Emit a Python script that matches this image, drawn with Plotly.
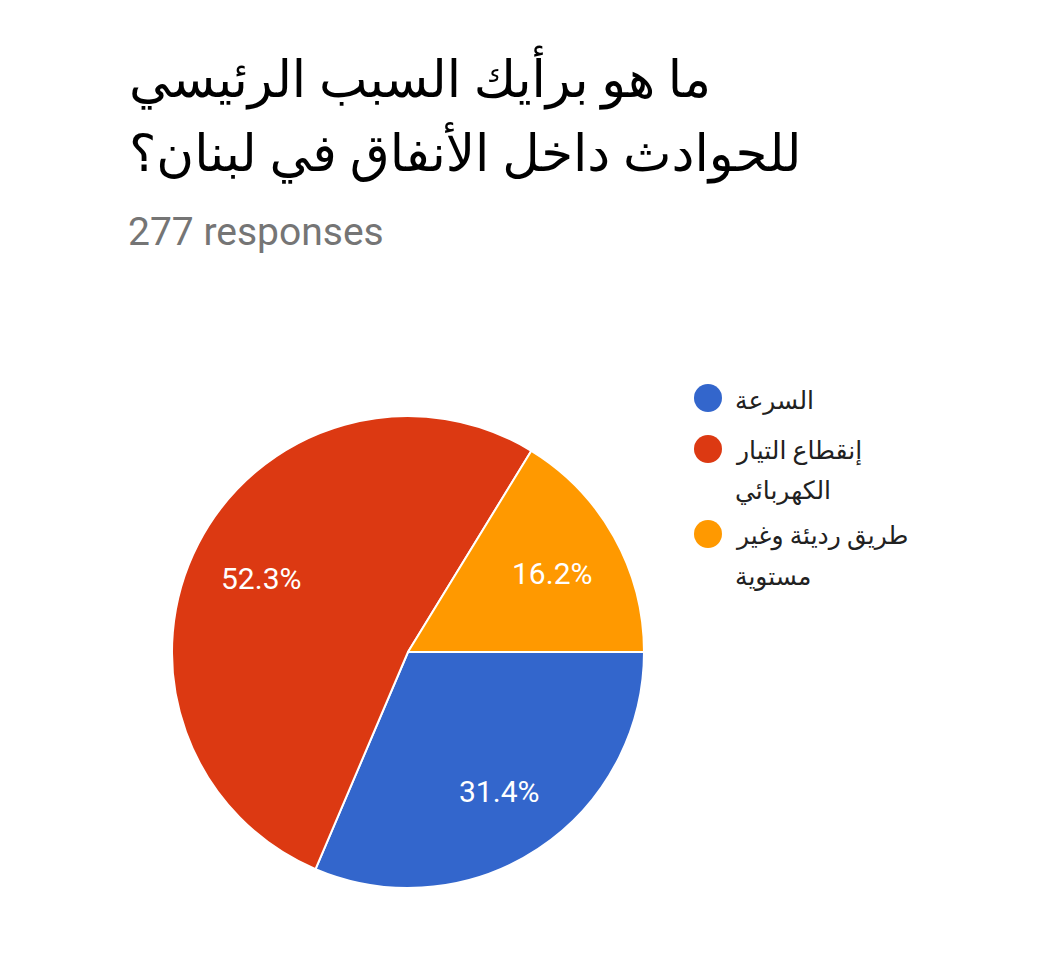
import math
import plotly.graph_objects as go

# ---- data ----
labels = ["السرعة", "إنقطاع التيار الكهربائي", "طريق رديئة وغير مستوية"]
legend_lines = [["السرعة"], ["إنقطاع التيار", "الكهربائي"], ["طريق رديئة وغير", "مستوية"]]
counts = [87, 145, 45]
colors = ["#3366CC", "#DC3912", "#FF9900"]
title_lines = ["ما هو برأيك السبب الرئيسي", "للحوادث داخل الأنفاق في لبنان؟"]
subtitle = "277 responses"

W, H = 1038, 957

def px(x):
    return x / W

def py(y):
    return 1 - y / H

fig = go.Figure()

cx, cy, R = 408, 652, 236
rotation = 90
fig.add_trace(go.Pie(
    labels=labels,
    values=counts,
    marker=dict(colors=colors, line=dict(color="white", width=2)),
    sort=False,
    direction="clockwise",
    rotation=rotation,
    textinfo="none",
    showlegend=False,
    hoverinfo="label+percent",
    domain=dict(x=[px(cx - R), px(cx + R)], y=[py(cy + R), py(cy - R)]),
))

annotations = []
# title lines
for i, line in enumerate(title_lines):
    annotations.append(dict(text=line, x=px(127), y=py(77 + 76 * i), xref="paper", yref="paper",
                            xanchor="left", yanchor="middle", showarrow=False,
                            font=dict(family="Roboto, DejaVu Sans", size=51.5, color="#000000")))
annotations.append(dict(text=subtitle, x=px(126), y=py(232), xref="paper", yref="paper",
                        xanchor="left", yanchor="middle", showarrow=False,
                        font=dict(family="Roboto", size=39, color="#757575")))

# percentage labels placed along each slice's mid-angle
total = sum(counts)
start = 0.0
for v in counts:
    frac = v / total
    mid_deg = rotation + 360 * (start + frac / 2)  # clockwise from 12 o'clock
    th = math.radians(mid_deg)
    r = 0.7 * R
    lx = cx + r * math.sin(th)
    ly = cy - r * math.cos(th)
    annotations.append(dict(text=f"{frac * 100:.1f}%", x=px(lx), y=py(ly + 2), xref="paper", yref="paper",
                            xanchor="center", yanchor="middle", showarrow=False,
                            font=dict(family="Roboto", size=30, color="white")))
    start += frac

# legend
shapes = []
legend_y = [398, 449, 534]
for lines, col, ly in zip(legend_lines, colors, legend_y):
    shapes.append(dict(type="circle", xref="paper", yref="paper",
                       x0=px(694), x1=px(722), y0=py(ly + 14), y1=py(ly - 14),
                       fillcolor=col, line=dict(width=0)))
    for j, t in enumerate(lines):
        annotations.append(dict(text=t, x=px(733), y=py(ly + 2 + 40 * j), xref="paper", yref="paper",
                                xanchor="left", yanchor="middle", showarrow=False,
                                font=dict(family="Roboto, DejaVu Sans", size=25, color="#212121")))

fig.update_layout(
    width=W, height=H,
    margin=dict(l=0, r=0, t=0, b=0),
    paper_bgcolor="white", plot_bgcolor="white",
    annotations=annotations,
    shapes=shapes,
)

fig.write_html("out.html")
